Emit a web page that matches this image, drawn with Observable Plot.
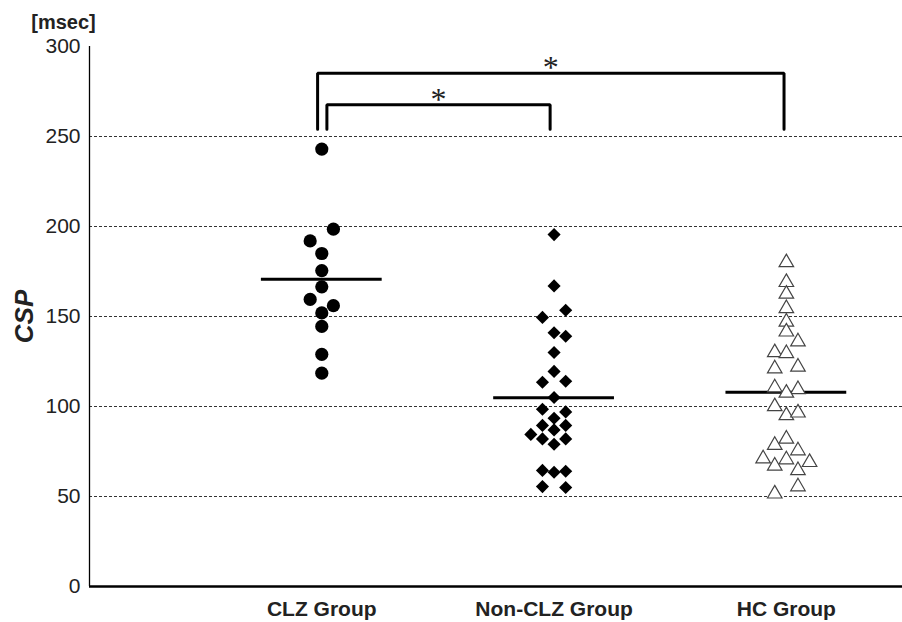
<!DOCTYPE html>
<html><head><meta charset="utf-8">
<script src="https://cdn.jsdelivr.net/npm/d3@7"></script>
<script src="https://cdn.jsdelivr.net/npm/@observablehq/plot@0.6"></script>
<style>body{margin:0;background:#fff;} #chart svg{display:block}</style>
</head><body><div id="chart"></div>
<script>
// Categories
const groups = ["CLZ Group", "Non-CLZ Group", "HC Group"];

// CSP values (msec) and jitter column (-2..2) for each point
const clzValues = [243, 198.5, 192, 185, 175.5, 166.5, 159.5, 156, 152, 144.5, 129, 118.5];
const clzCols   = [0,   1,     -1,  0,   0,     0,     -1,    1,   0,   0,     0,   0];

const nonClzValues = [195.5, 167, 153.5, 149.5, 141, 139, 130, 119.5, 113.5, 114, 105, 98.5, 97, 93.5, 89.5, 89.5, 87, 84.5, 82, 82, 79, 64.5, 63.5, 64, 55.5, 55];
const nonClzCols   = [0,     0,   1,     -1,    0,   1,   0,   0,     -1,    1,   0,   -1,   1,  0,    -1,   1,    0,  -2,   -1, 1,  0,  -1,   0,    1,  -1,   1];

const hcValues = [180, 169, 162.5, 154.5, 147, 141.5, 136, 130, 129.5, 121, 122, 110.5, 109.5, 107.5, 100, 95, 96.5, 82, 78.5, 75.5, 71, 70.5, 67, 69, 64.5, 55.5, 51.5];
const hcCols   = [0,   0,   0,     0,     0,   0,     1,   -1,  0,     -1,  1,   -1,    1,     0,     -1,  0,  1,    0,  -1,   1,    -2, 0,    -1, 2,  1,    1,    -1];

// Group means (horizontal bars)
const means = [170.7, 104.8, 107.9];

// Axis ticks
const yTicks = [0, 50, 100, 150, 200, 250, 300];
const gridTicks = [50, 100, 150, 200, 250];

// Significance brackets
const bracketFrom   = [0.982, 1.022];
const bracketTo     = [2.99, 1.983];
const bracketTop    = [285.2, 267.6];
const bracketBottom = [254, 254];
const bracketLabel  = ["*", "*"];

// ---- build tables ----
const jitter = 0.05, meanHalf = 0.26;
const toRows = (vals, cols, g) => vals.map((v, i) => ({x: g + cols[i] * jitter, y: v}));
const clz = toRows(clzValues, clzCols, 1);
const nonClz = toRows(nonClzValues, nonClzCols, 2);
const hc = toRows(hcValues, hcCols, 3);
const meanRows = means.map((m, i) => ({mean: m, x1: i + 1 - meanHalf, x2: i + 1 + meanHalf}));
const bracketPts = bracketFrom.flatMap((f, i) => [
  {b: i, x: f, y: bracketBottom[i]},
  {b: i, x: f, y: bracketTop[i]},
  {b: i, x: bracketTo[i], y: bracketTop[i]},
  {b: i, x: bracketTo[i], y: bracketBottom[i]}
]);
const stars = bracketFrom.map((f, i) => ({x: (f + bracketTo[i]) / 2, y: bracketTop[i], t: bracketLabel[i]}));

const chart = Plot.plot({
  width: 902, height: 622,
  marginLeft: 89, marginRight: 0, marginTop: 46, marginBottom: 36,
  style: {fontFamily: "'Liberation Sans', Arial, sans-serif", color: "#000", background: "#fff", overflow: "visible"},
  x: {domain: [0, 3.5]},
  y: {domain: [0, 300]},
  marks: [
    Plot.gridY(gridTicks, {stroke: "#333", strokeOpacity: 1, strokeDasharray: "3,2", strokeWidth: 1}),
    Plot.axisY(yTicks, {tickSize: 0, tickPadding: 9, fontSize: 21, fill: "#222", label: null}),
    Plot.axisX([1, 2, 3], {tickSize: 0, tickPadding: 15, fontSize: 21, fontWeight: "bold", fill: "#222", tickFormat: d => groups[d - 1], label: null}),
    Plot.ruleX([0], {strokeWidth: 1.3}),
    Plot.ruleY([0], {strokeWidth: 2.5}),
    Plot.ruleY(meanRows, {y: "mean", x1: "x1", x2: "x2", strokeWidth: 3}),
    Plot.line(bracketPts, {x: "x", y: "y", z: "b", stroke: "#000", strokeWidth: 3, strokeLinejoin: "miter", curve: "linear"}),
    Plot.text(stars, {x: "x", y: "y", text: "t", fontSize: 32, fill: "#222", fontFamily: "'Liberation Serif', 'Times New Roman', serif", lineAnchor: "middle", dy: -5}),
    Plot.dot(clz, {x: "x", y: "y", symbol: "circle", r: 6.6, fill: "#000"}),
    Plot.dot(nonClz, {x: "x", y: "y", symbol: "diamond2", r: 5.9, fill: "#000"}),
    Plot.dot(hc, {x: "x", y: "y", symbol: "triangle", r: 5.4, fill: "#fff", stroke: "#444", strokeWidth: 1.2}),
    Plot.text(["CSP"], {frameAnchor: "left", textAnchor: "middle", lineAnchor: "middle", dx: -65, rotate: -90, fontSize: 26, fontWeight: "bold", fontStyle: "italic", fill: "#222"}),
    Plot.text(["[msec]"], {frameAnchor: "top-left", textAnchor: "middle", lineAnchor: "middle", dx: -26, dy: -24, fontSize: 20, fontWeight: "bold", fill: "#222"})
  ]
});
document.getElementById("chart").append(chart);
</script>
</body></html>
